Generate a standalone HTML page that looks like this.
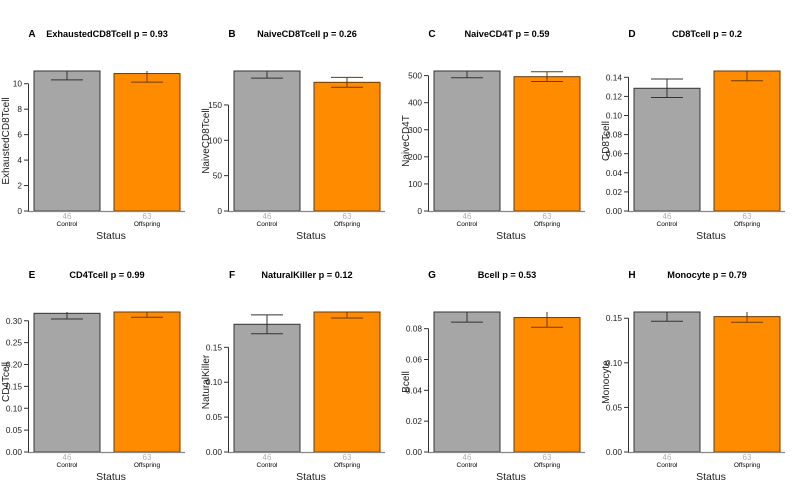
<!DOCTYPE html>
<html><head><meta charset="utf-8">
<style>
html,body{margin:0;padding:0;background:#fff;}
svg{display:block;font-family:"Liberation Sans",Arial,sans-serif;}
</style></head>
<body>
<svg id="chart" width="800" height="482" viewBox="0 0 800 482"></svg>
<script>
const panelLetters = ["A","B","C","D","E","F","G","H"];
const panelNames = ["ExhaustedCD8Tcell","NaiveCD8Tcell","NaiveCD4T","CD8Tcell","CD4Tcell","NaturalKiller","Bcell","Monocyte"];
const pValues = ["0.93","0.26","0.59","0.2","0.99","0.12","0.53","0.79"];
const groups = ["Control","Offspring"];
const counts = ["46","63"];
const controlMeans = [11.0, 198, 517, 0.1285, 0.317, 0.183, 0.0908, 0.157];
const controlSE = [0.7, 10, 25, 0.0097, 0.013, 0.0135, 0.0066, 0.0104];
const offspringMeans = [10.8, 182, 496, 0.1466, 0.320, 0.2006, 0.0872, 0.1518];
const offspringSE = [0.67, 7, 18, 0.0102, 0.012, 0.0086, 0.0063, 0.0063];
const ticks = [
  [0,2,4,6,8,10],
  [0,50,100,150],
  [0,100,200,300,400,500],
  [0,0.02,0.04,0.06,0.08,0.10,0.12,0.14],
  [0,0.05,0.10,0.15,0.20,0.25,0.30],
  [0,0.05,0.10,0.15],
  [0,0.02,0.04,0.06,0.08],
  [0,0.05,0.10,0.15]
];
const tickLabels = [
  ["0","2","4","6","8","10"],
  ["0","50","100","150"],
  ["0","100","200","300","400","500"],
  ["0.00","0.02","0.04","0.06","0.08","0.10","0.12","0.14"],
  ["0.00","0.05","0.10","0.15","0.20","0.25","0.30"],
  ["0.00","0.05","0.10","0.15"],
  ["0.00","0.02","0.04","0.06","0.08"],
  ["0.00","0.05","0.10","0.15"]
];
const svg = document.getElementById('chart');
const NS = "http://www.w3.org/2000/svg";
function mk(tag, attrs, parent, text){
  const e = document.createElementNS(NS, tag);
  for (const k in attrs) e.setAttribute(k, attrs[k]);
  if (text !== undefined) e.textContent = text;
  parent.appendChild(e);
  return e;
}
const PH = 140;
const fills = ["#a6a6a6","#ff8c00"];
for (let i = 0; i < 8; i++) {
  const ox = (i % 4) * 200;
  const base = i < 4 ? 211 : 452;
  const top = base - PH;
  const means = [controlMeans[i], offspringMeans[i]];
  const ses = [controlSE[i], offspringSE[i]];
  const ymax = Math.max(means[0], means[1]);
  const y = v => base - v / ymax * PH;
  const g = mk('g', {}, svg);
  
  
  const lt = mk('text', {x: ox+32, y: base-174, 'font-size': 10, 'font-weight': 'bold', 'text-anchor':'middle', fill:'#000'}, g, panelLetters[i]);
  
  
  const tt = mk('text', {x: ox+107, y: base-174, 'font-size': 9.2, 'font-weight': 'bold', 'text-anchor':'middle', fill:'#000'}, g, panelNames[i] + ' p = ' + pValues[i]);
  
  
  const cg = mk('g', {}, g);
  for (let b = 0; b < 2; b++) {
    const x0 = ox + 34 + b * 80;
    const r = mk('rect', {x: x0, y: y(means[b]), width: 66, height: base - y(means[b]), fill: fills[b], stroke: b ? '#6b3a00' : '#333', 'stroke-width': 1}, cg);
    
    
    const cx = x0 + 33;
    const hi = Math.max(y(means[b] + ses[b]), top);
    const lo = y(means[b] - ses[b]);
    const eb = mk('path', {d: `M${cx},${hi}V${lo}M${cx-16},${lo}H${cx+16}` + (y(means[b]+ses[b]) >= top ? `M${cx-16},${hi}H${cx+16}` : ''), stroke: b ? '#6b3a00' : '#333', 'stroke-width': 1, fill: 'none'}, cg);
    
    
    const ct = mk('text', {x: cx, y: base+8, 'font-size': 8, 'text-anchor': 'middle', fill: '#b0b0b0'}, g, counts[b]);
    
    
    const gl = mk('text', {x: cx, y: base+15, 'font-size': 6.5, 'text-anchor': 'middle', fill: '#000'}, g, groups[b]);
    
    
  }
  const xa = mk('line', {x1: ox+28, x2: ox+185, y1: base+0.5, y2: base+0.5, stroke: '#888', 'stroke-width': 1.2}, g);
  
  
  const xt = mk('text', {x: ox+111, y: base+28, 'font-size': 10.5, 'text-anchor': 'middle', fill: '#222'}, g, 'Status');
  
  
  const tk = ticks[i];
  const ya = mk('line', {x1: ox+28.5, x2: ox+28.5, y1: base, y2: y(tk[tk.length-1]), stroke: '#333', 'stroke-width': 1}, g);
  
  
  for (let t = 0; t < tk.length; t++) {
    const ty = y(tk[t]);
    const tl = mk('line', {x1: ox+24, x2: ox+28.5, y1: ty, y2: ty, stroke: '#333', 'stroke-width': 1}, g);
    
    
    const tx = mk('text', {x: ox+22, y: ty+3, 'font-size': 8.3, 'text-anchor': 'end', fill: '#222'}, g, tickLabels[i][t]);
    
    
  }
  const ycy = base - PH/2;
  const yt = mk('text', {x: ox+6, y: ycy, 'font-size': 10, 'text-anchor': 'middle', fill: '#222', transform: `rotate(-90 ${ox+6} ${ycy})`, dy: 3}, g, panelNames[i]);
  
  
}
</script>
</body></html>
